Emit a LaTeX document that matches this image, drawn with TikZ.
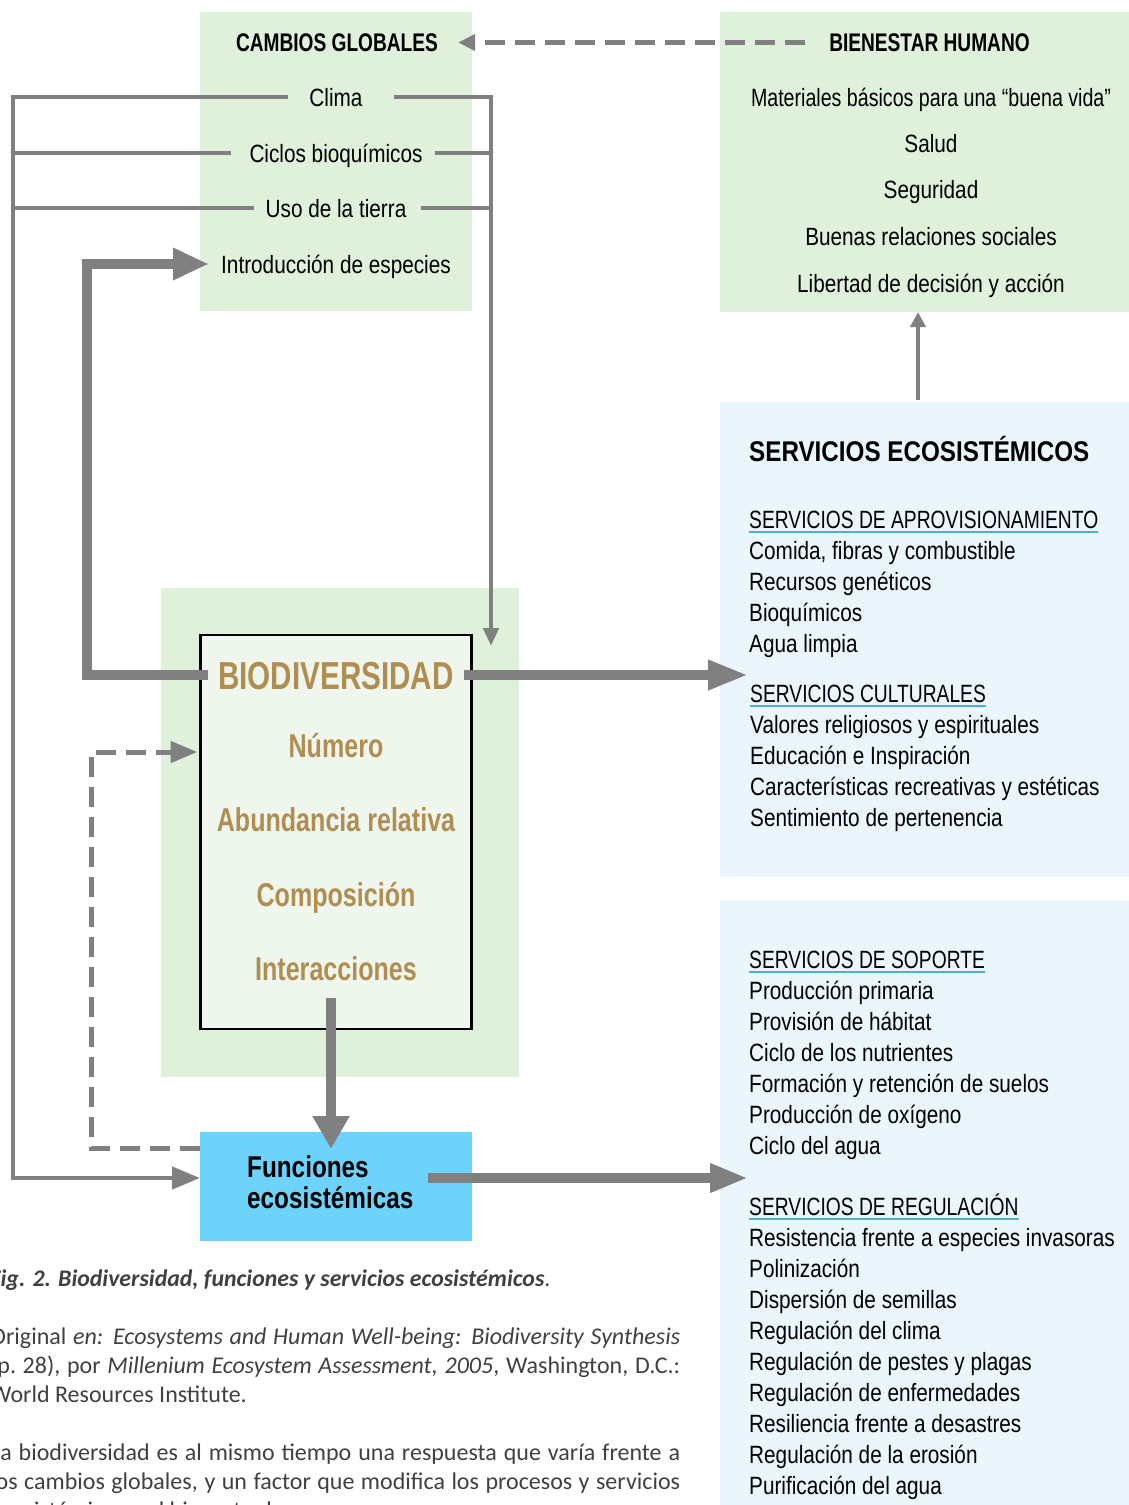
\documentclass[tikz,border=0pt]{standalone}
\usepackage{fontspec}
\usetikzlibrary{arrows.meta}
\newfontfamily\fR[FakeStretch=0.83]{Liberation Sans}
\newfontfamily\fH[FakeStretch=0.77]{Liberation Sans}
\newfontfamily\fM[FakeStretch=0.785]{Liberation Sans}
\newfontfamily\fT[FakeStretch=0.75]{Liberation Sans}
\newfontfamily\fS[FakeStretch=0.85]{Liberation Sans}
\newfontfamily\fF[FakeStretch=0.81]{Liberation Sans}
\newfontfamily\fB[FakeStretch=0.76]{Liberation Sans}
\newfontfamily\fC{Carlito}
\definecolor{gbg}{RGB}{223,240,219}
\definecolor{bbg}{RGB}{234,246,252}
\definecolor{bioin}{RGB}{238,246,237}
\definecolor{fcyan}{RGB}{110,211,250}
\definecolor{gold}{RGB}{176,141,80}
\definecolor{agray}{RGB}{128,128,128}
\definecolor{uline}{RGB}{78,176,204}
\definecolor{captxt}{RGB}{64,64,64}
\tikzset{
  bx/.style={draw=none, inner sep=0pt, outer sep=0pt, anchor=north west},
  rt/.style={font=\fR\fontsize{25}{30}\selectfont, inner sep=0pt, text height=18pt, text depth=0pt},
  lt/.style={rt, anchor=west},
  lh/.style={lt, font=\fH\fontsize{25}{30}\selectfont},
  ttl/.style={font=\fT\bfseries\fontsize{25.5}{30}\selectfont, inner sep=0pt, text height=18.3pt, text depth=0pt},
  biot/.style={font=\fB\bfseries\fontsize{39}{42}\selectfont, text=gold, inner sep=0pt, text height=28pt, text depth=0pt},
  bios/.style={font=\fB\bfseries\fontsize{33}{36}\selectfont, text=gold, inner sep=0pt, text height=23.5pt, text depth=0pt},
  fet/.style={font=\fF\bfseries\fontsize{30}{31}\selectfont, inner sep=0pt, anchor=base west},
  para/.style={font=\fC\fontsize{24}{29.2}\selectfont, text=captxt, inner sep=0pt, text width=690pt, align=justify, anchor=base west},
  ul/.style={draw=uline, line width=1.8pt},
  thinl/.style={draw=agray, line width=4.5pt},
  thickl/.style={draw=agray, line width=9.5pt},
  dashl/.style={draw=agray, line width=5pt, dash pattern=on 20pt off 10pt},
  tipS/.style={-{Triangle[length=18pt,width=15pt]}},
  tipM/.style={-{Triangle[length=28pt,width=22pt]}},
  tipL/.style={-{Triangle[length=36pt,width=30pt]}},
}
\begin{document}
\begin{tikzpicture}[x=1pt,y=-1pt]
\useasboundingbox (0,0) rectangle (1129,1505);
\clip (0,0) rectangle (1129,1505);
% ---------- boxes
\node[bx, fill=gbg, minimum width=272pt, minimum height=299pt] (cg) at (200,12) {};
\node[bx, fill=gbg, minimum width=409pt, minimum height=300pt] (bh) at (720,12) {};
\node[bx, fill=bbg, minimum width=409pt, minimum height=475pt] (se) at (720,402) {};
\node[bx, fill=bbg, minimum width=409pt, minimum height=605pt] (sl) at (720,900) {};
\node[bx, fill=gbg, minimum width=358pt, minimum height=489pt] (bg) at (161,588) {};
\node[bx, fill=bioin, draw=black, line width=2.5pt, minimum width=271pt, minimum height=394pt] (bio) at (200.5,635) {};
\node[bx, fill=fcyan, minimum width=272pt, minimum height=109pt] (fe) at (200,1132) {};
% ---------- cambios globales
\node[ttl] (cgt) at (337,42.5) {CAMBIOS GLOBALES};
\node[rt] (clima) at (336,97) {Clima};
\node[rt] (ciclos) at (336,153) {Ciclos bioquímicos};
\node[rt] (uso) at (336,208) {Uso de la tierra};
\node[rt] (intro) at (336,264) {Introducción de especies};
% ---------- bienestar humano
\node[ttl] (bht) at (929.5,42.5) {BIENESTAR HUMANO};
\node[rt, font=\fM\fontsize{25}{30}\selectfont] (bh1) at (931,97) {Materiales básicos para una “buena vida”};
\node[rt] (bh2) at (931,143) {Salud};
\node[rt] (bh3) at (931,189) {Seguridad};
\node[rt] (bh4) at (931,236) {Buenas relaciones sociales};
\node[rt] (bh5) at (931,283) {Libertad de decisión y acción};
% ---------- servicios
\node[inner sep=0pt, anchor=west, font=\fS\bfseries\fontsize{28.5}{32}\selectfont, text height=20.3pt, text depth=0pt] (set) at (749,451) {SERVICIOS ECOSISTÉMICOS};
\node[lh] (aprov) at (749,519) {SERVICIOS DE APROVISIONAMIENTO};
\draw[ul] ([yshift=-13pt]aprov.west) -- ([yshift=-13pt]aprov.east);
\foreach \t [count=\i, evaluate=\i as \yy using 519+31*\i] in {{Comida, fibras y combustible},Recursos genéticos,Bioquímicos,Agua limpia}
  \node[lt] (ap\i) at (749,\yy) {\t};
\node[lh] (cult) at (750,693) {SERVICIOS CULTURALES};
\draw[ul] ([yshift=-13pt]cult.west) -- ([yshift=-13pt]cult.east);
\foreach \t [count=\i, evaluate=\i as \yy using 693+31*\i] in {Valores religiosos y espirituales,Educación e Inspiración,Características recreativas y estéticas,Sentimiento de pertenencia}
  \node[lt] (cu\i) at (750,\yy) {\t};
\node[lh] (sop) at (749,959) {SERVICIOS DE SOPORTE};
\draw[ul] ([yshift=-13pt]sop.west) -- ([yshift=-13pt]sop.east);
\foreach \t [count=\i, evaluate=\i as \yy using 959+31*\i] in {Producción primaria,Provisión de hábitat,Ciclo de los nutrientes,Formación y retención de suelos,Producción de oxígeno,Ciclo del agua}
  \node[lt] (so\i) at (749,\yy) {\t};
\node[lh] (reg) at (749,1206) {SERVICIOS DE REGULACIÓN};
\draw[ul] ([yshift=-13pt]reg.west) -- ([yshift=-13pt]reg.east);
\foreach \t [count=\i, evaluate=\i as \yy using 1206+31*\i] in {Resistencia frente a especies invasoras,Polinización,Dispersión de semillas,Regulación del clima,Regulación de pestes y plagas,Regulación de enfermedades,Resiliencia frente a desastres,Regulación de la erosión,Purificación del agua}
  \node[lt] (re\i) at (749,\yy) {\t};
% ---------- biodiversidad
\node[biot] (biott) at (336,675) {BIODIVERSIDAD};
\node[bios] (num) at (336,746) {Número};
\node[bios] (abu) at (336,820) {Abundancia relativa};
\node[bios] (comp) at (336,895) {Composición};
\node[bios] (inter) at (336,969) {Interacciones};
% ---------- funciones
\node[fet] (fe1) at (247,1177) {Funciones};
\node[fet] (fe2) at (247,1208) {ecosistémicas};
% ---------- caption
\node[inner sep=0pt, anchor=base west, font=\fC\fontsize{23.8}{29.2}\selectfont, text=captxt] (cap) at (-10.5,1286) {\textbf{\textit{Fig. 2. Biodiversidad, funciones y servicios ecosistémicos}}.};
\node[para] (p1) at (-10,1344) {Original \textit{en: Ecosystems and Human Well-being: Biodiversity Synthesis}\linebreak (p.~28), por \textit{Millenium Ecosystem Assessment, 2005}, Washington, D.C.:\linebreak World Resources Institute.};
\node[para] (p2) at (-10,1460) {La biodiversidad es al mismo tiempo una respuesta que varía frente a\linebreak los cambios globales, y un factor que modifica los procesos y servicios\linebreak ecosistémicos y el bienestar humano.};
% ---------- connectors
\coordinate (Ltop) at (13,97);
\coordinate (Lbot) at (13,1178);
\coordinate (Rtop) at (491,97);
\coordinate (Rbot) at (491,646);
\coordinate (Tk) at (87,675);
\coordinate (Sin1) at (748,675);
\coordinate (Dn1) at (331,998);
\coordinate (Dn2) at (331,1149);
\coordinate (feout) at (428,1178);
\coordinate (Sin2) at (748,1178);
\coordinate (DL1) at (91,1148);
\coordinate (DL2) at (91,752);
\coordinate (Up1) at (918,400);
\draw[thinl, tipM] ([xshift=-21pt]clima.west) -- (Ltop) -- (Lbot) -- (fe.west |- Lbot);
\draw[thinl] ([xshift=-18pt]ciclos.west) -- ([xshift=-2pt]ciclos.west -| Ltop);
\draw[thinl] ([xshift=-11pt]uso.west) -- ([xshift=-2pt]uso.west -| Ltop);
\draw[thinl, tipS] ([xshift=31pt]clima.east) -- (Rtop) -- (Rbot);
\draw[thinl] ([xshift=12pt]ciclos.east) -- ([xshift=2pt]ciclos.east -| Rtop);
\draw[thinl] ([xshift=14pt]uso.east) -- ([xshift=2pt]uso.east -| Rtop);
\draw[thickl, tipL] ([xshift=-10pt]biott.west) -- (Tk) -- (Tk |- intro.west) -- ([xshift=-12pt]intro.west);
\draw[thickl, -{Triangle[length=40pt,width=28pt]}] ([xshift=10pt]biott.east) -- (Sin1);
\draw[thickl, -{Triangle[length=33pt,width=35pt]}] (Dn1) -- (Dn2);
\draw[thickl, -{Triangle[length=38pt,width=27pt]}] (feout) -- (Sin2);
\draw[dashl, -{Triangle[length=27pt,width=21pt]}] (fe.west |- DL1) -- (DL1) -- (DL2) -- ([xshift=-3pt]bio.west |- DL2);
\draw[dashl, -{Triangle[length=17pt,width=16pt]}] ([xshift=-24pt]bht.west) -- ([xshift=20pt]cgt.east);
\draw[thinl, -{Triangle[length=15pt,width=15pt]}] (Up1) -- (Up1 |- bh.south);
\end{tikzpicture}
\end{document}
